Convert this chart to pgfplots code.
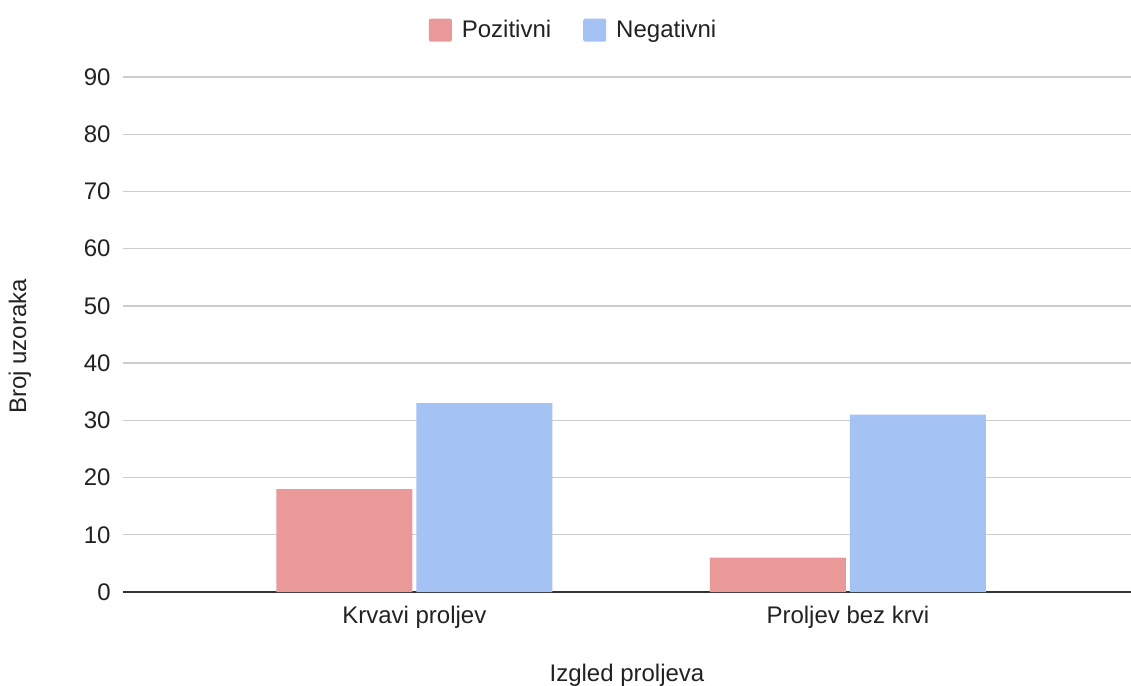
\documentclass[border=0pt]{standalone}
\usepackage{pgfplots}
\pgfplotsset{compat=1.18}
\usepackage{fontspec}
\setmainfont{Liberation Sans}
\definecolor{pozcol}{HTML}{EA9999}
\definecolor{negcol}{HTML}{A4C2F4}
\definecolor{gridcol}{HTML}{CCCCCC}
\definecolor{axiscol}{HTML}{333333}
\definecolor{txtcol}{HTML}{222222}

\begin{document}
\fontsize{12pt}{14pt}\selectfont
\begin{tikzpicture}
\path[use as bounding box] (-61.5pt,-47pt) rectangle (504pt,296pt);
\begin{axis}[
  scale only axis,
  width=504pt, height=257.5pt,
  ybar=2pt, bar width=68pt,
  xmin=-0.672, xmax=1.653,
  ymin=0, ymax=90,
  ytick={0,10,...,90},
  xtick={0,1},
  xticklabels={Krvavi proljev, Proljev bez krvi},
  major tick length=0pt,
  axis x line*=bottom,
  axis y line*=left,
  y axis line style={draw=none},
  x axis line style={axiscol, line width=0.8pt},
  ymajorgrids,
  grid style={gridcol, line width=0.7pt},
  /pgf/number format/assume math mode=true,
  tick label style={font=\fontsize{12pt}{14pt}\selectfont, text=txtcol},
  xticklabel style={yshift=-3pt},
  yticklabel style={xshift=-2pt},
  xlabel={Izgled proljeva},
  ylabel={Broj uzoraka},
  label style={font=\fontsize{12pt}{14pt}\selectfont, text=txtcol},
  xlabel style={at={(rel axis cs:0.5,0)}, anchor=center, yshift=-41.5pt},
  ylabel style={at={(rel axis cs:0,0.5)}, anchor=center, yshift=51.5pt, xshift=-6pt},
  legend columns=2,
  legend style={draw=none, at={(0.448,1.091)}, anchor=center,
    font=\fontsize{12pt}{14pt}\selectfont, text=txtcol,
    /tikz/every odd column/.append style={column sep=3pt},
    /tikz/every even column/.append style={column sep=14pt}},
  legend image code/.code={
    \fill[#1, rounded corners=1pt] (0pt,-5.75pt) rectangle (11.5pt,5.75pt);
  },
  clip=false,
]
\addplot[draw=none, fill=pozcol] coordinates {(0,18) (1,6)};
\addplot[draw=none, fill=negcol] coordinates {(0,33) (1,31)};
\legend{Pozitivni, Negativni}
\end{axis}
\end{tikzpicture}
\end{document}
